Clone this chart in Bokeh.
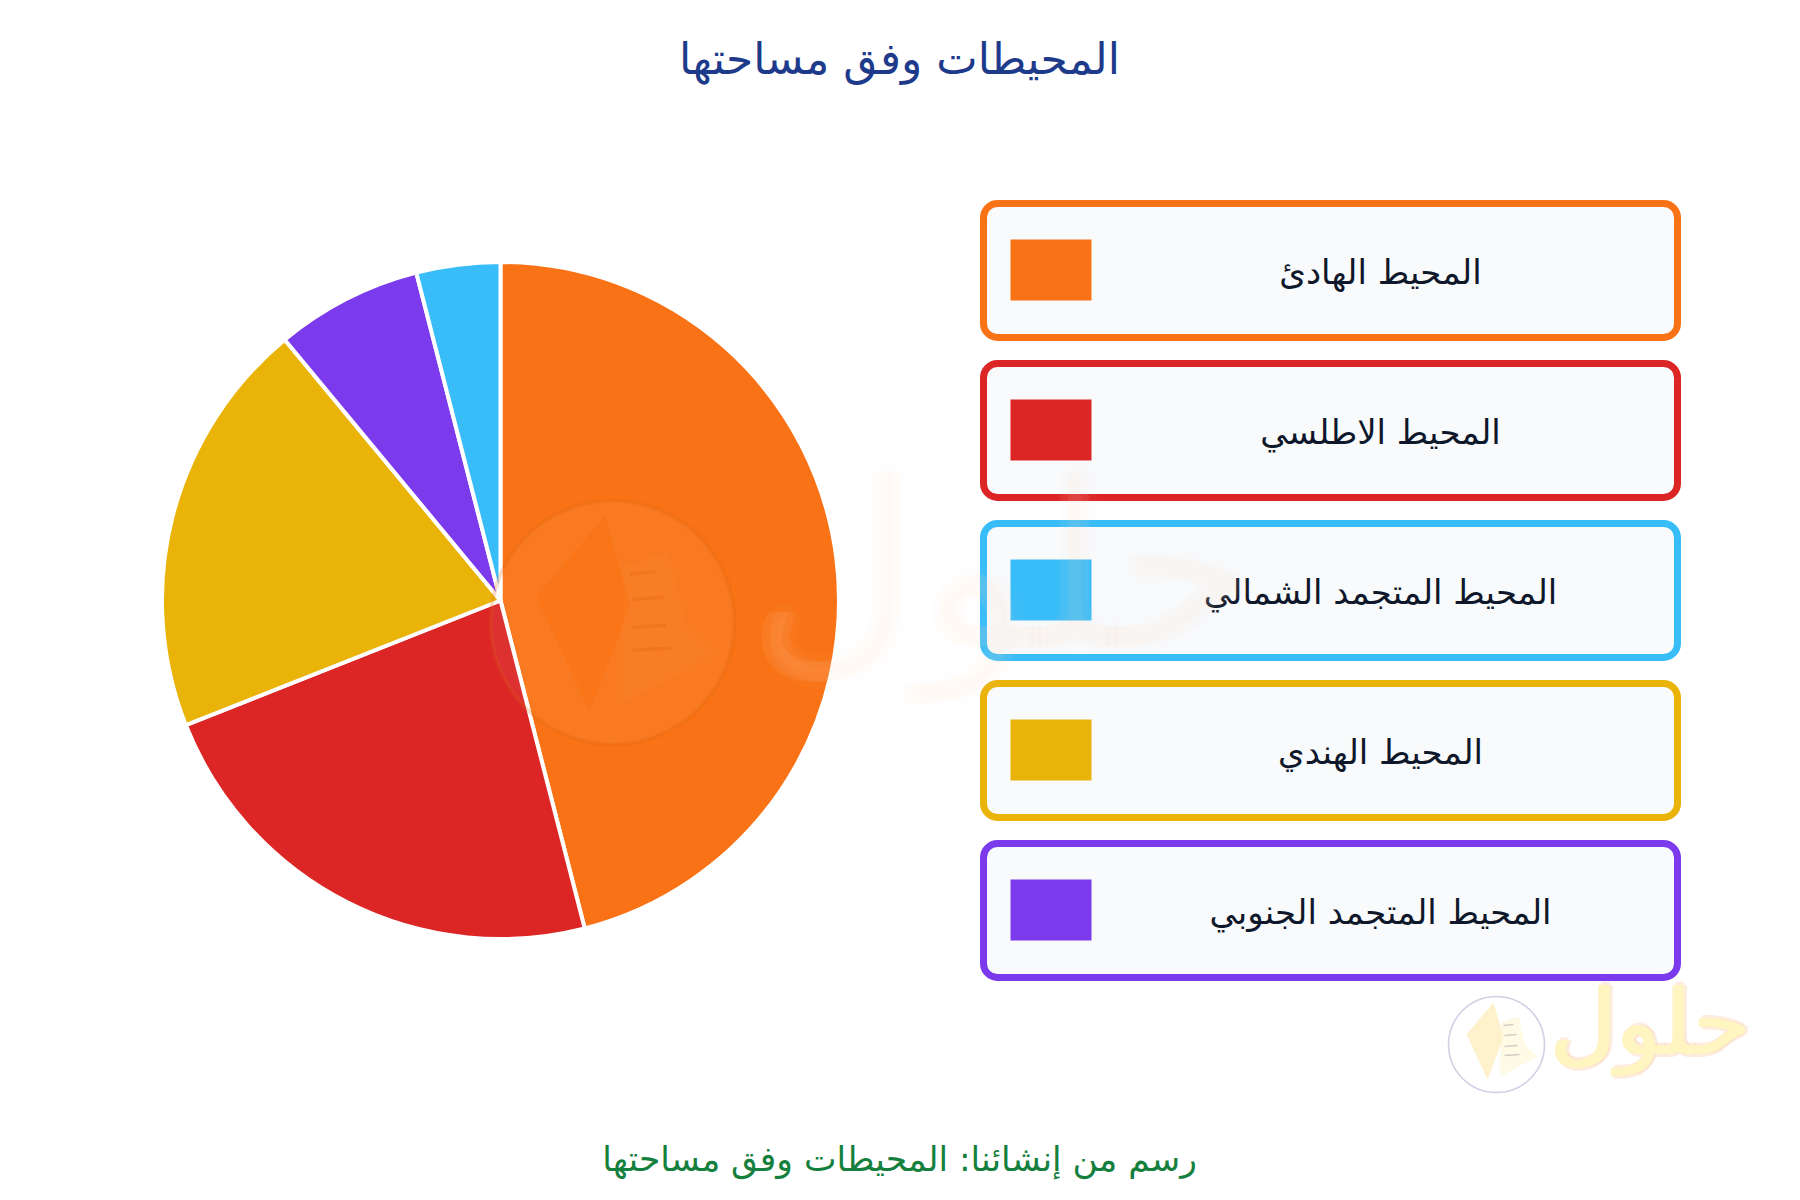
from math import pi
from bokeh.plotting import figure
from bokeh.embed import file_html
from bokeh.resources import INLINE
from bokeh.core.properties import value

title_text = "المحيطات وفق مساحتها"
caption_text = "رسم من إنشائنا: المحيطات وفق مساحتها"
brand_text = "حلول"

# Pie order (clockwise from twelve o'clock)
pie_names = ["المحيط الهادئ", "المحيط الاطلسي", "المحيط الهندي", "المحيط المتجمد الجنوبي", "المحيط المتجمد الشمالي"]
pie_values = [46, 23, 20, 7, 4]
pie_colors = ["#f97316", "#dc2626", "#eab308", "#7c3aed", "#38bdf8"]

# Legend order
legend_names = ["المحيط الهادئ", "المحيط الاطلسي", "المحيط المتجمد الشمالي", "المحيط الهندي", "المحيط المتجمد الجنوبي"]
legend_colors = ["#f97316", "#dc2626", "#38bdf8", "#eab308", "#7c3aed"]

W, H = 1784, 1184
FONT = value("DejaVu Sans")

p = figure(width=W, height=H, x_range=(0, W), y_range=(1200 - H, 1200),
           output_backend="svg", toolbar_location=None, min_border=0)
p.axis.visible = False
p.grid.visible = False
p.outline_line_color = None
p.background_fill_color = "#ffffff"
p.border_fill_color = "#ffffff"

def Y(y):
    return 1200 - y

# Pie
starts, ends = [], []
angle = pi / 2
total = sum(pie_values)
for v in pie_values:
    starts.append(angle)
    angle -= 2 * pi * v / total
    ends.append(angle)
p.wedge(x=[500] * len(pie_values), y=[Y(600)] * len(pie_values), radius=338.5,
        start_angle=starts, end_angle=ends, direction="clock",
        fill_color=pie_colors, line_color="#ffffff", line_width=4)

# Legend cards
for i, (name, col) in enumerate(zip(legend_names, legend_colors)):
    top = 203 + 160 * i
    p.quad(left=[983], right=[1677], top=[Y(top)], bottom=[Y(top + 134)],
           fill_color="#f8fafc", line_color=col, line_width=7, border_radius=14)
    p.quad(left=[1010], right=[1091], top=[Y(top + 37 - 1)], bottom=[Y(top + 98 - 1)],
           fill_color=col, line_color=None)
    p.text(x=[1380], y=[Y(top + 68)], text=[name], text_font=FONT, text_font_size="34px",
           text_color="#0f172a", text_align="center", text_baseline="middle")

# Title and caption
p.text(x=[899], y=[Y(58)], text=[title_text], text_font=FONT, text_font_size="44px",
       text_color="#1e3a8a", text_align="center", text_baseline="middle")
p.text(x=[899], y=[Y(1158)], text=[caption_text], text_font=FONT, text_font_size="34.5px",
       text_color="#15803d", text_align="center", text_baseline="middle")

# Watermark logo
def logo(cx, cy, s, a, diamond, page, ring, ring_alpha, disc, rule, rule_alpha):
    def X(dx):
        return cx + dx * s
    def YY(dy):
        return Y(cy + dy * s)
    p.circle(x=[cx], y=[Y(cy)], radius=48 * s, fill_color="#ffffff", fill_alpha=disc,
             line_color=ring, line_alpha=ring_alpha, line_width=1.6 * s)
    p.patch([X(-3), X(-30), X(-9), X(7)], [YY(-42), YY(-10), YY(35), YY(-7)],
            fill_color=diamond, fill_alpha=0.7, line_color=None)
    p.patch([X(4), X(22), X(29), X(41), X(4)], [YY(-22), YY(-28), YY(1), YY(12), YY(32)],
            fill_color=page, fill_alpha=0.5 * a, line_color=None)
    for dy, x0, x1 in [(-19, 7, 17), (-9, 8, 20), (2, 8, 21), (11, 8, 23)]:
        p.line([X(x0), X(x1)], [YY(dy), YY(dy - 1)], line_color=rule,
               line_alpha=rule_alpha, line_width=1.3 * s)
    # thick lettering built from offset copies of the text
    offsets = [(-3, 0), (3, 0), (0, -3), (0, 3), (0, 0)]
    for (dx, dy), col, al in [(o, "#fcd9c0", 0.5) for o in offsets[:4]] + [(o, "#fff5c0", 1.0) for o in offsets[:1] + offsets[4:]]:
        p.text(x=[X(155 + dx)], y=[YY(-22 + dy)], text=[brand_text], text_font=FONT,
               text_font_size=f"{91 * s:.0f}px",
               text_color=col, text_alpha=al * a, text_align="center", text_baseline="middle")

logo(612, 622, 2.54, 0.05, "#f97316", "#fdf6cc", "#d9620f", 0.22, 0.05, "#d9620f", 0.3)
logo(1496, 1044, 1.0, 1.0, "#feedb8", "#fdf6cc", "#c4c4e0", 0.8, 0.05, "#b0b0b0", 0.6)

open("out.html", "w").write(file_html(p, INLINE))
